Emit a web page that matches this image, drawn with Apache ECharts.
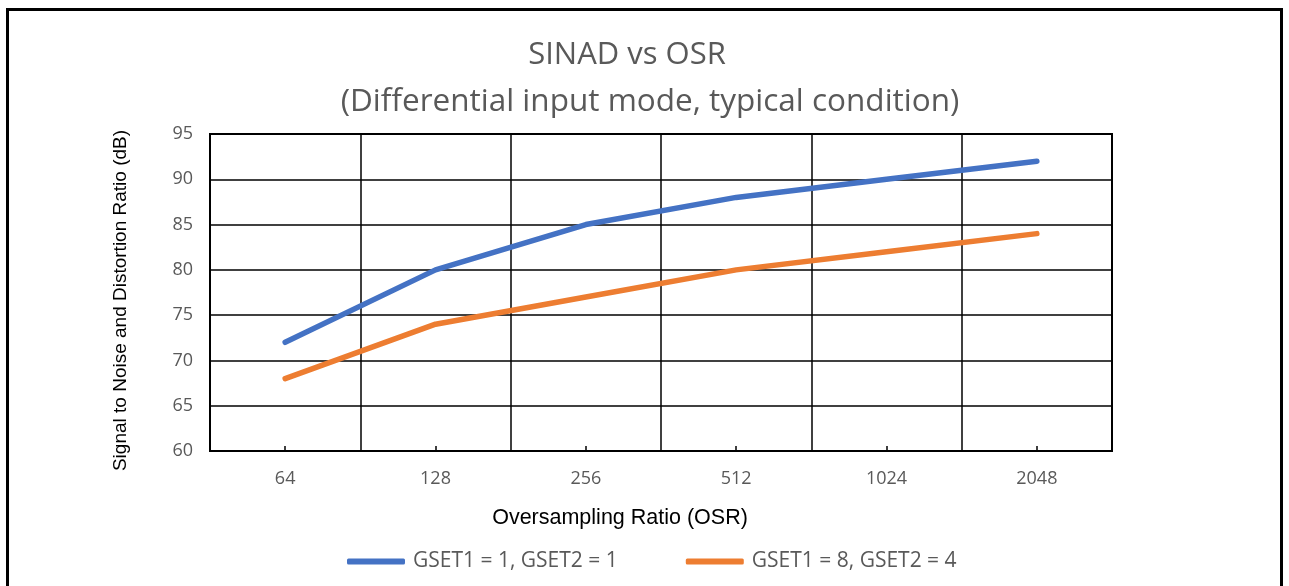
<!DOCTYPE html>
<html>
<head>
<meta charset="utf-8">
<script src="https://cdn.jsdelivr.net/npm/echarts@6/dist/echarts.min.js"></script>
<style>
  html, body { margin: 0; padding: 0; background: #fff; }
  #chart { width: 1289px; height: 586px; }
</style>
</head>
<body>
<div id="chart"></div>
<script>
// Oversampling ratios on the x axis
const osrLabels = ['64', '128', '256', '512', '1024', '2048'];
// SINAD (dB) per gain setting
const sinadGain1 = [72, 80, 85, 88, 90, 92];
const sinadGain8 = [68, 74, 77, 80, 82, 84];
const seriesNames = ['GSET1 = 1, GSET2 = 1', 'GSET1 = 8, GSET2 = 4'];
const titleLines = ['SINAD vs OSR', '(Differential input mode, typical condition)'];

const chart = echarts.init(document.getElementById('chart'), null, { renderer: 'canvas' });
const labelFont = '"Open Sans", Lato, sans-serif';
const arialFont = '"Liberation Sans", Arial, sans-serif';

chart.setOption({
  animation: false,
  backgroundColor: '#fff',
  graphic: [
    { type: 'rect', shape: { x: 7.5, y: 9.5, width: 1274, height: 600 },
      style: { fill: 'none', stroke: '#000', lineWidth: 3 }, silent: true },
    { type: 'text', x: 627, y: 55,
      style: { text: titleLines[0], font: '400 31px ' + labelFont, fill: '#595959', align: 'center', verticalAlign: 'middle' } },
    { type: 'text', x: 650, y: 102,
      style: { text: titleLines[1], font: '400 31.5px ' + labelFont, fill: '#595959', align: 'center', verticalAlign: 'middle' } },
    { type: 'text', x: 620, y: 518,
      style: { text: 'Oversampling Ratio (OSR)', font: '400 21.5px ' + arialFont, fill: '#000', align: 'center', verticalAlign: 'middle' } }
  ],
  grid: {
    left: 210, top: 134, width: 902, height: 317,
    show: true, borderColor: '#000', borderWidth: 2, backgroundColor: 'transparent'
  },
  legend: {
    left: 342, top: 546,
    itemWidth: 58, itemHeight: 6, itemGap: 68,
    icon: 'roundRect',
    textStyle: { fontFamily: labelFont, fontSize: 21, color: '#595959', padding: [0, 0, 0, 3] },
    data: seriesNames
  },
  xAxis: {
    type: 'category',
    data: osrLabels,
    boundaryGap: true,
    axisLine: { show: true, lineStyle: { color: '#000', width: 2 } },
    axisTick: { show: true, alignWithLabel: true, inside: true, length: 5, lineStyle: { color: '#000', width: 1.5 } },
    axisLabel: { fontFamily: labelFont, fontSize: 18, color: '#595959', margin: 19 },
    splitLine: { show: true, lineStyle: { color: '#000', width: 1.5 } }
  },
  yAxis: {
    type: 'value',
    min: 60, max: 95, interval: 5,
    name: 'Signal to Noise and Distortion Ratio (dB)',
    nameLocation: 'middle',
    nameGap: 80,
    nameTextStyle: { fontFamily: arialFont, fontSize: 19, color: '#000', padding: [0, 16, 0, 0] },
    axisLine: { show: true, lineStyle: { color: '#000', width: 2 } },
    axisTick: { show: false },
    axisLabel: { fontFamily: labelFont, fontSize: 18, color: '#595959', margin: 17 },
    splitLine: { show: true, lineStyle: { color: '#000', width: 1.5 } }
  },
  series: [
    { name: seriesNames[0], type: 'line', data: sinadGain1, symbol: 'none',
      color: '#4472C4', lineStyle: { width: 5.5, color: '#4472C4', cap: 'round', join: 'round' } },
    { name: seriesNames[1], type: 'line', data: sinadGain8, symbol: 'none',
      color: '#ED7D31', lineStyle: { width: 5.5, color: '#ED7D31', cap: 'round', join: 'round' } }
  ]
});
</script>
</body>
</html>
